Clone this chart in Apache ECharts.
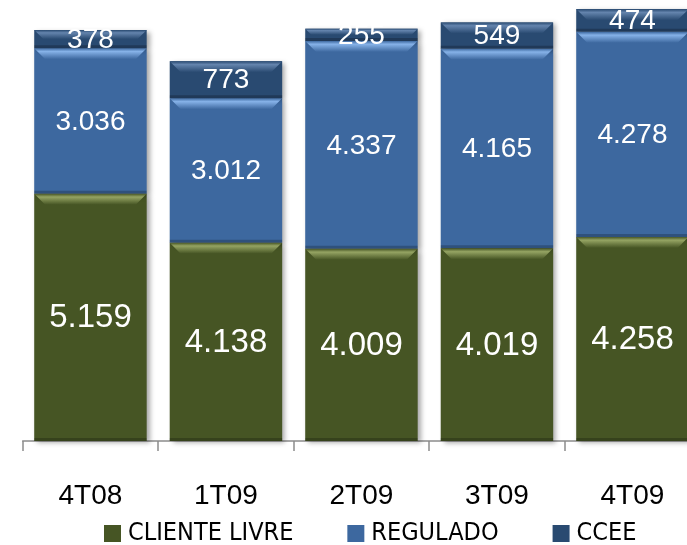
<!DOCTYPE html>
<html>
<head>
<meta charset="utf-8">
<script src="https://cdn.jsdelivr.net/npm/echarts@6/dist/echarts.min.js"></script>
<style>
	html, body { margin: 0; padding: 0; background: #fff; }
	#chart { width: 687px; height: 545px; }
</style>
</head>
<body>
<div id="chart"></div>
<script>
var categories = ['4T08', '1T09', '2T09', '3T09', '4T09'];
var clienteLivre = [5159, 4138, 4009, 4019, 4258];
var regulado = [3036, 3012, 4337, 4165, 4278];
var ccee = [378, 773, 255, 549, 474];

var seriesNames = ['CLIENTE LIVRE', 'REGULADO', 'CCEE'];
var bodyColors = ['#465524', '#3d689f', '#294a71'];
var bevelColors = ['#95a463', '#86b2e8', '#6484ad'];
var labelSizes = [33, 28, 28];

function fmt(v){
	if(v >= 1000){
		return Math.floor(v / 1000) + '.' + String(v % 1000).padStart(3, '0');
	}
	return String(v);
}

// bases and tops of each stacked piece, for the bevel / label overlay
function stackData(layers, k){
	return categories.map(function(c, i){
		var base = 0;
		for(var j = 0; j < k; j++){ base += layers[j][i]; }
		return [i, base, base + layers[k][i], layers[k][i]];
	});
}

function makeOverlay(layers, k){
	return {
		name: seriesNames[k] + '-overlay',
		type: 'custom',
		silent: true,
		z: 5,
		data: stackData(layers, k),
		renderItem: function(params, api){
			var i = api.value(0);
			var top = api.coord([i, api.value(2)]);
			var bot = api.coord([i, api.value(1)]);
			var bw = api.size([1, 0])[0] * 0.83;
			var l = top[0] - bw / 2, r = top[0] + bw / 2;
			var h = Math.min(11, (bot[1] - top[1]) / 2);
			return {
				type: 'group',
				children: [{
					type: 'polygon',
					shape: { points: [[l, top[1]], [r, top[1]], [r - h, top[1] + h], [l + h, top[1] + h]] },
					style: {
						fill: new echarts.graphic.LinearGradient(0, 0, 0, 1, [
							{ offset: 0, color: bodyColors[k] },
							{ offset: 0.3, color: bevelColors[k] },
							{ offset: 1, color: bodyColors[k] }
						])
					}
				}, {
					type: 'rect',
					shape: { x: l, y: bot[1] - 3, width: bw, height: 3 },
					style: { fill: 'rgba(0,0,0,0.22)' }
				}, {
					type: 'text',
					style: {
						x: top[0],
						y: (top[1] + bot[1]) / 2 + 1,
						text: fmt(api.value(3)),
						fill: '#fff',
						fontSize: labelSizes[k],
						fontFamily: "'Liberation Sans', Arial, sans-serif",
						align: 'center',
						verticalAlign: 'middle'
					}
				}]
			};
		}
	};
}

var layers = [clienteLivre, regulado, ccee];
var series = [];
layers.forEach(function(vals, k){
	series.push({
		name: seriesNames[k],
		type: 'bar',
		stack: 'total',
		barCategoryGap: '17%',
		z: 2,
		itemStyle: {
			color: bodyColors[k],
			shadowColor: 'rgba(0,0,0,0.35)',
			shadowBlur: 5,
			shadowOffsetX: 3,
			shadowOffsetY: 2
		},
		data: vals
	});
});
layers.forEach(function(vals, k){
	series.push(makeOverlay(layers, k));
});

var option = {
	animation: false,
	grid: {
		left: 22.7,
		top: 0,
		bottom: 104,
		width: 677.5,
		outerBoundsMode: 'none'
	},
	legend: {
		data: seriesNames,
		left: 104,
		top: 521,
		padding: 0,
		icon: 'rect',
		itemWidth: 17,
		itemHeight: 17,
		itemGap: 54,
		textStyle: {
			fontSize: 25,
			color: '#000',
			fontFamily: "'Liberation Sans Narrow', 'DejaVu Sans Condensed', sans-serif",
			padding: [0, 0, 0, 2]
		}
	},
	xAxis: {
		type: 'category',
		data: categories,
		axisLine: { show: true, lineStyle: { color: '#8c8c8c', width: 1.5 } },
		axisTick: { show: true, alignWithLabel: false, length: 10, lineStyle: { color: '#8c8c8c', width: 1.5 } },
		axisLabel: {
			margin: 41,
			fontSize: 28,
			color: '#000',
			fontFamily: "'Liberation Sans', Arial, sans-serif"
		}
	},
	yAxis: {
		type: 'value',
		min: 0,
		max: 9200,
		show: false,
		splitLine: { show: false }
	},
	series: series
};

var chart = echarts.init(document.getElementById('chart'));
chart.setOption(option);
</script>
</body>
</html>
